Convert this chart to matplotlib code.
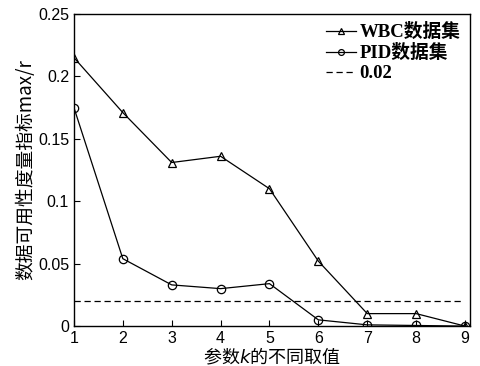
import matplotlib
matplotlib.use("Agg")
import matplotlib.pyplot as plt

plt.rcParams["font.family"] = ["Liberation Sans", "Noto Sans CJK SC", "DejaVu Sans"]

k_values = [1, 2, 3, 4, 5, 6, 7, 8, 9]
wbc_values = [0.215, 0.171, 0.131, 0.136, 0.110, 0.052, 0.010, 0.010, 0.000]
pid_values = [0.175, 0.054, 0.033, 0.030, 0.034, 0.005, 0.001, 0.0005, 0.000]
threshold = 0.02

fig = plt.figure(figsize=(4.8, 3.66), dpi=100)
ax = fig.add_axes([0.154, 0.109, 0.825, 0.853])

ax.plot(k_values, wbc_values, color="black", linewidth=0.9, marker="^",
        markersize=6, markerfacecolor="none", markeredgewidth=0.9, label="WBC数据集")
ax.plot(k_values, pid_values, color="black", linewidth=0.9, marker="o",
        markersize=6, markerfacecolor="none", markeredgewidth=0.9, label="PID数据集")
ax.plot([k_values[0], k_values[-1] - 0.05], [threshold, threshold], color="black",
        linewidth=0.9, linestyle=(0, (5, 3)), label="0.02")

ax.set_xlim(1, 9.1)
ax.set_ylim(0, 0.25)
ax.set_xticks(k_values)
ax.set_yticks([0, 0.05, 0.1, 0.15, 0.2, 0.25])
ax.set_yticklabels(["0", "0.05", "0.1", "0.15", "0.2", "0.25"])
ax.tick_params(direction="in", labelsize=11.5, top=False, right=False, length=4)
for spine in ax.spines.values():
    spine.set_linewidth(1.0)

ax.set_xlabel("参数$k$的不同取值", fontsize=13, family=["Noto Sans CJK SC"], labelpad=0)
ax.set_ylabel("数据可用性度量指标max/r", fontsize=13.5,
              family=["Noto Sans CJK SC"], labelpad=1)

ax.legend(loc="upper right", frameon=False, handlelength=1.6, handletextpad=0.2,
          labelspacing=0.15, borderaxespad=0.1, markerscale=0.7,
          prop={"family": ["Liberation Serif", "Noto Sans CJK SC"], "weight": "bold", "size": 13.5})

fig.savefig("out.png", dpi=100)
